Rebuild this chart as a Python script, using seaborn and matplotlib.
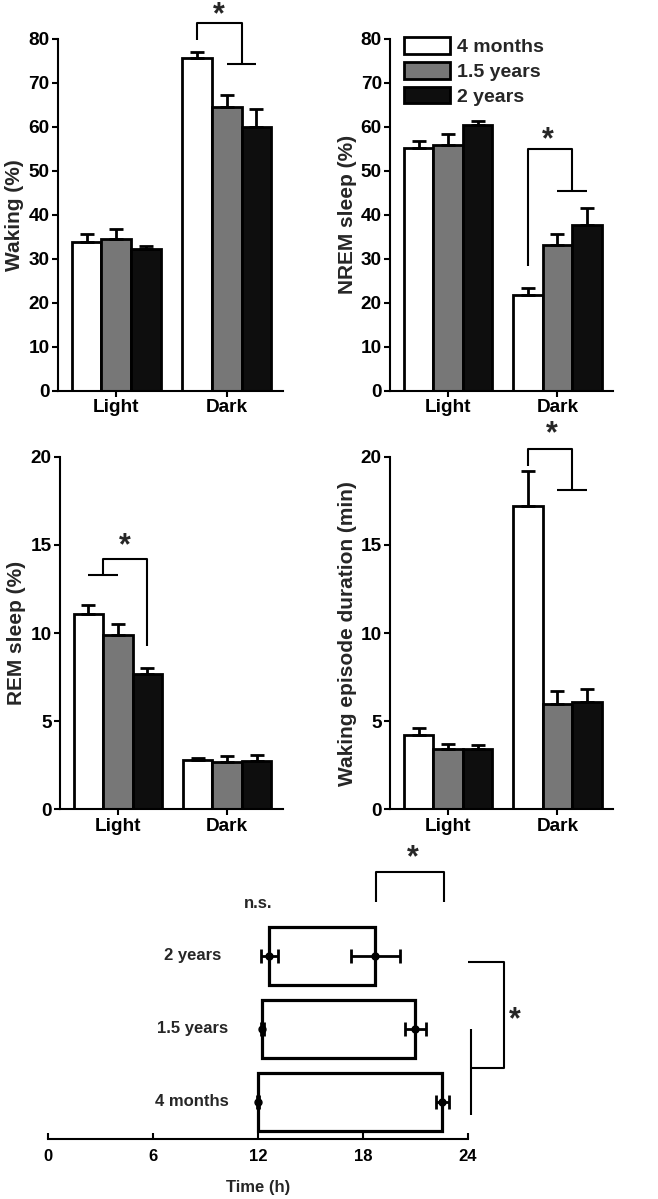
import numpy as np
import pandas as pd
import seaborn as sns
import matplotlib.pyplot as plt

sns.set_theme(style="ticks")
plt.rcParams["font.family"] = ["Liberation Sans", "DejaVu Sans"]
plt.rcParams["font.weight"] = "bold"
plt.rcParams["axes.labelweight"] = "bold"

# Datos: [fase][grupo]
fases = ["Light", "Dark"]
grupos = ["4 months", "1.5 years", "2 years"]
colores = ["#ffffff", "#777777", "#0e0e0e"]

waking = [[33.9, 34.5, 32.3], [75.7, 64.5, 60.0]]
waking_err = [[1.7, 2.4, 0.7], [1.3, 2.7, 4.1]]
nrem = [[55.3, 55.9, 60.5], [21.8, 33.2, 37.7]]
nrem_err = [[1.4, 2.5, 0.8], [1.5, 2.4, 3.8]]
rem = [[11.1, 9.9, 7.7], [2.8, 2.7, 2.75]]
rem_err = [[0.5, 0.6, 0.3], [0.1, 0.3, 0.35]]
duracion = [[4.2, 3.4, 3.4], [17.2, 6.0, 6.1]]
duracion_err = [[0.4, 0.3, 0.25], [2.0, 0.7, 0.75]]

# Panel inferior: inicio y fin del periodo (h), orden 4 months, 1.5 years, 2 years
inicio = [12.0, 12.25, 12.65]
inicio_err = [0.05, 0.08, 0.5]
fin = [22.55, 21.0, 18.7]
fin_err = [0.35, 0.6, 1.4]

FS = 13.7
FS_LAB = 15
FS_INF = 12  # el panel inferior usa letra más angosta

fig = plt.figure(figsize=(6.58, 11.99), dpi=100)
axA = fig.add_axes([0.088, 0.674, 0.342, 0.2935])
axB = fig.add_axes([0.593, 0.674, 0.339, 0.2935])
axC = fig.add_axes([0.091, 0.325, 0.339, 0.294])
axD = fig.add_axes([0.593, 0.325, 0.339, 0.294])
axE = fig.add_axes([0.073, 0.050, 0.638, 0.232])


def barras(ax, vals, errs, ylabel, ymax, paso, leyenda=False):
    df = pd.DataFrame(
        [(f, g, vals[i][j]) for i, f in enumerate(fases) for j, g in enumerate(grupos)],
        columns=["fase", "grupo", "valor"],
    )
    sns.barplot(data=df, x="fase", y="valor", hue="grupo", hue_order=grupos,
                palette=colores, width=0.81, errorbar=None, edgecolor="black",
                linewidth=2, saturation=1, ax=ax, legend=leyenda)
    contenedores = list(ax.containers)
    for j, cont in enumerate(contenedores):
        for i, bar in enumerate(cont.patches):
            xc = bar.get_x() + bar.get_width() / 2
            ax.errorbar(xc, bar.get_height(), yerr=[[0], [errs[i][j]]], fmt="none",
                        ecolor="black", elinewidth=2, capsize=5, capthick=2, zorder=1)
    ax.set_xlim(-0.53, 1.51)
    ax.set_ylim(0, ymax)
    ax.set_yticks(np.arange(0, ymax + 0.1, paso))
    ax.set_xlabel("")
    ax.set_ylabel(ylabel, fontsize=FS_LAB, fontweight="bold", labelpad=3)
    ax.tick_params(labelsize=FS, width=1.5, length=4, pad=2, colors="black")
    for lbl in ax.get_xticklabels() + ax.get_yticklabels():
        lbl.set_fontweight("bold")
    sns.despine(ax=ax)
    for s in ["left", "bottom"]:
        ax.spines[s].set_linewidth(1.5)
        ax.spines[s].set_color("black")


def corchete(ax, xs, ys):
    ax.plot(xs, ys, color="black", lw=1.5, clip_on=False, solid_capstyle="butt")


def estrella(ax, x, y, size=22):
    ax.text(x, y, "*", ha="center", va="center", fontsize=size, fontweight="bold", clip_on=False)


barras(axA, waking, waking_err, "Waking (%)", 80, 10)
corchete(axA, [0.73, 0.73, 1.135, 1.135], [79.7, 83.6, 83.6, 74.2])
corchete(axA, [1.0, 1.27], [74.2, 74.2])
estrella(axA, 0.93, 85.5)

barras(axB, nrem, nrem_err, "NREM sleep (%)", 80, 10, leyenda=True)
corchete(axB, [0.73, 0.73, 1.135, 1.135], [28.5, 55.0, 55.0, 45.5])
corchete(axB, [1.0, 1.27], [45.5, 45.5])
estrella(axB, 0.91, 57.0)
axB.legend(loc="upper left", bbox_to_anchor=(0.06, 1.006), frameon=False, fontsize=14,
           handlelength=2.4, handleheight=0.95, handletextpad=0.35, labelspacing=0.3,
           borderaxespad=0, borderpad=0)

barras(axC, rem, rem_err, "REM sleep (%)", 20, 5)
corchete(axC, [-0.135, -0.135, 0.27, 0.27], [13.3, 14.2, 14.2, 9.24])
corchete(axC, [-0.27, 0.0], [13.3, 13.3])
estrella(axC, 0.06, 14.9)

barras(axD, duracion, duracion_err, "Waking episode duration (min)", 20, 5)
corchete(axD, [0.73, 0.73, 1.135, 1.135], [19.47, 20.47, 20.47, 18.14])
corchete(axD, [1.0, 1.27], [18.14, 18.14])
estrella(axD, 0.95, 21.3)

# Panel inferior: periodo de vigilia por grupo
ypos = np.arange(len(grupos))
anchos = np.array(fin) - np.array(inicio)
axE.barh(ypos, anchos, left=inicio, height=0.8, color="white", edgecolor="black", linewidth=2.3)
axE.errorbar(inicio, ypos, xerr=inicio_err, fmt="o", color="black", ms=5,
             elinewidth=2, capsize=5, capthick=2)
axE.errorbar(fin, ypos, xerr=fin_err, fmt="o", color="black", ms=5,
             elinewidth=2, capsize=5, capthick=2)
axE.set_xlim(0, 24)
axE.set_ylim(-0.51, 3.3)
axE.set_xticks([0, 6, 12, 18, 24])
axE.set_yticks([])
axE.tick_params(axis="x", direction="in", length=4, width=1.5, pad=7, labelsize=FS_INF, colors="black")
for lbl in axE.get_xticklabels():
    lbl.set_fontweight("bold")
axE.set_xlabel("Time (h)", fontsize=FS_INF, fontweight="bold", labelpad=12)
for s in ["left", "top", "right"]:
    axE.spines[s].set_visible(False)
axE.spines["bottom"].set_linewidth(1.5)
axE.spines["bottom"].set_color("black")
for y, g in zip(ypos, grupos):
    axE.text(8.25, y, g, ha="center", va="center", fontsize=FS_INF, fontweight="bold")
axE.text(12.0, 2.72, "n.s.", ha="center", va="center", fontsize=FS_INF, fontweight="bold")
corchete(axE, [18.74, 18.74, 22.63, 22.63], [2.73, 3.15, 3.15, 2.73])
estrella(axE, 20.86, 3.33)
corchete(axE, [24.0, 26.06, 26.06, 24.17], [1.92, 1.92, 0.47, 0.47])
corchete(axE, [24.17, 24.17], [1.0, -0.18])
estrella(axE, 26.7, 1.12)

fig.savefig("out.png", dpi=100)
